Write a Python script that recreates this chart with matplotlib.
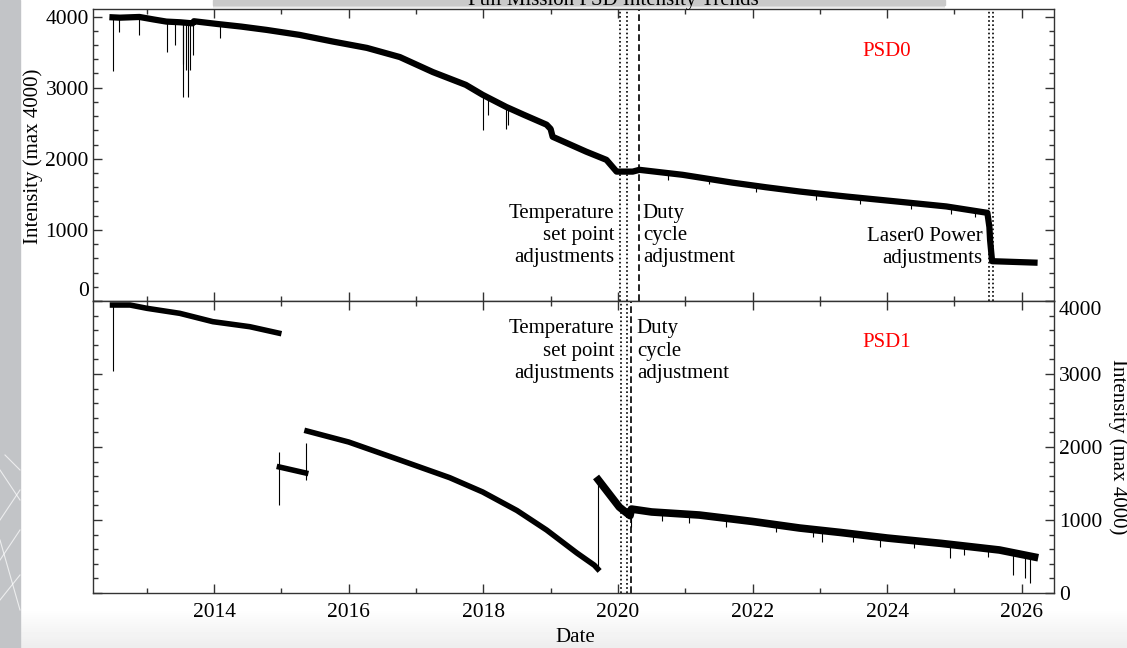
import numpy as np
import matplotlib
matplotlib.use("Agg")
import matplotlib.pyplot as plt
from matplotlib.ticker import MultipleLocator, FormatStrFormatter
from matplotlib.patches import Rectangle

plt.rcParams['font.family'] = ['Liberation Serif', 'DejaVu Serif']

# ---------------- DATA ----------------
# PSD0 : decimal year / intensity
psd0_dates = [2012.49, 2012.60, 2012.89, 2013.10, 2013.29, 2013.50, 2013.68, 2013.70,
              2014.04, 2014.40, 2014.78, 2015.27, 2015.76, 2016.27, 2016.76, 2017.25,
              2017.74, 2017.99, 2018.34, 2018.60, 2018.94, 2019.00, 2019.03, 2019.53,
              2019.83, 2019.98, 2020.22, 2020.32, 2020.96, 2021.70, 2022.20, 2022.70,
              2022.89, 2023.39, 2024.14, 2024.88, 2025.49, 2025.52, 2025.53, 2025.56,
              2026.19]
psd0_vals = [3990, 3985, 3995, 3960, 3930, 3920, 3905, 3935,
             3897, 3860, 3813, 3743, 3650, 3560, 3431, 3220,
             3040, 2900, 2730, 2620, 2480, 2420, 2310, 2100,
             1985, 1820, 1820, 1845, 1775, 1665, 1600, 1540,
             1520, 1470, 1400, 1330, 1240, 1040, 860, 560,
             540]
# PSD0 short drop-outs
psd0_dip_dates = [2012.49, 2012.59, 2012.89, 2013.30, 2013.42, 2013.53, 2013.54, 2013.58,
                  2013.61, 2013.64, 2013.69, 2014.08, 2018.00, 2018.07, 2018.33, 2018.37,
                  2020.75, 2021.35, 2022.05, 2022.95, 2023.60, 2024.35, 2024.95, 2025.30]
psd0_dip_hi = [3990, 3985, 3990, 3930, 3925, 3915, 3915, 3915,
               3910, 3910, 3905, 3890, 2900, 2860, 2730, 2710,
               1800, 1730, 1620, 1510, 1440, 1380, 1320, 1270]
psd0_dip_lo = [3234, 3790, 3740, 3500, 3600, 3340, 2870, 3250,
               2870, 3250, 3460, 3700, 2410, 2620, 2420, 2470,
               1700, 1640, 1530, 1420, 1360, 1290, 1230, 1180]

# PSD1 : four pieces
psd1_a_dates = [2012.49, 2012.75, 2013.00, 2013.49, 2013.98, 2014.53, 2014.96]
psd1_a_vals = [3945, 3945, 3900, 3831, 3717, 3648, 3560]
psd1_b_dates = [2014.97, 2015.36]
psd1_b_vals = [1726, 1644]
psd1_c_dates = [2015.38, 2016.00, 2016.76, 2017.50, 2017.99, 2018.50, 2018.94, 2019.39,
                2019.65, 2019.70]
psd1_c_vals = [2219, 2068, 1822, 1580, 1384, 1130, 863, 548,
               380, 330]
psd1_d_dates = [2019.71, 2020.02, 2020.13, 2020.18, 2020.20, 2020.50, 2021.21, 2022.00,
                2022.70, 2023.30, 2024.00, 2024.80, 2025.67, 2026.19]
psd1_d_vals = [1548, 1178, 1096, 1060, 1150, 1110, 1068, 980,
               890, 830, 753, 680, 589, 493]
psd1_dip_dates = [2012.49, 2014.97, 2015.36, 2019.705, 2020.20, 2023.04, 2023.89, 2024.93,
                  2025.87, 2026.05, 2026.12, 2020.65, 2021.05, 2021.60, 2022.35,
                  2022.90, 2023.50, 2024.40, 2025.15, 2025.50]
psd1_dip_hi = [3945, 1930, 2055, 1548, 1150, 840, 765, 670,
               560, 510, 500, 1090, 1060, 1010, 940,
               870, 810, 720, 640, 610]
psd1_dip_lo = [3040, 1205, 1548, 330, 904, 703, 635, 475,
               247, 201, 141, 990, 960, 900, 830,
               770, 700, 610, 520, 490]

# event markers
temp_top = [2020.025, 2020.13]
duty_top = 2020.31
laser_top = [2025.52, 2025.57]
temp_bot = [2020.04, 2020.13]
duty_bot = 2020.20

W, H = 1127, 648
def fx(px):
    return px / W
def fy(py):
    return 1 - py / H

fig = plt.figure(figsize=(W / 100, H / 100), dpi=100)

# screenshot surroundings
bg = fig.add_axes([0, 0, 1, 1], zorder=-10)
bg.add_patch(Rectangle((0, 0), 20, H, color='#c2c4c7'))
for x0, y0, x1, y1 in [(0, 470, 20, 500), (0, 520, 20, 490), (0, 560, 20, 530),
                       (0, 600, 20, 575), (0, 540, 20, 610), (5, 455, 20, 470)]:
    bg.plot([x0, x1], [y0, y1], color='white', lw=0.8, alpha=0.7)
grad = np.linspace(1.0, 0.93, 40).reshape(-1, 1)
bg.imshow(grad, cmap='gray', vmin=0, vmax=1, extent=[20, W, H, 608], aspect='auto')
bg.add_patch(Rectangle((213, 0), 732, 5, color='#c9c9c9'))
sh = np.linspace(0.79, 1.0, 10).reshape(-1, 1)
bg.imshow(sh, cmap='gray', vmin=0, vmax=1, extent=[213, 945, 9, 5], aspect='auto')
bg.set_xlim(0, W)
bg.set_ylim(H, 0)
bg.axis('off')

ax0 = fig.add_axes([fx(93), fy(301), fx(1054) - fx(93), (301 - 9.5) / H])
ax1 = fig.add_axes([fx(93), fy(593), fx(1054) - fx(93), (593 - 301) / H])

for ax in (ax0, ax1):
    ax.set_xlim(2012.2, 2026.48)
    ax.xaxis.set_major_locator(MultipleLocator(2))
    ax.xaxis.set_minor_locator(MultipleLocator(1))
    ax.yaxis.set_major_locator(MultipleLocator(1000))
    ax.yaxis.set_minor_locator(MultipleLocator(200))
    ax.xaxis.set_major_formatter(FormatStrFormatter('%d'))
    ax.yaxis.set_major_formatter(FormatStrFormatter('%d'))
    ax.tick_params(which='both', direction='in', top=True, right=True,
                   labelsize=15.5, color='#333333', width=1)
    ax.tick_params(which='major', length=6.5)
    ax.tick_params(which='minor', length=3.4)
    for s in ax.spines.values():
        s.set_linewidth(1)
        s.set_color('#333333')

ax0.set_ylim(0, 4100)
ax1.set_ylim(0, 4000)
ax0.tick_params(labelbottom=False, pad=3)
ax1.tick_params(axis='y', labelleft=False, labelright=True, pad=3.5)
ax1.tick_params(axis='x', pad=7)

# PSD0
ax0.plot(psd0_dates, psd0_vals, color='k', lw=4.5, solid_joinstyle='round')
ax0.vlines(psd0_dip_dates, psd0_dip_lo, psd0_dip_hi, color='k', lw=0.8)

# PSD1
for d, v, w in [(psd1_a_dates, psd1_a_vals, 4), (psd1_b_dates, psd1_b_vals, 4),
                (psd1_c_dates, psd1_c_vals, 4), (psd1_d_dates, psd1_d_vals, 5.5)]:
    ax1.plot(d, v, color='k', lw=w, solid_joinstyle='round')
ax1.vlines(psd1_dip_dates, psd1_dip_lo, psd1_dip_hi, color='k', lw=0.8)

# event lines
dot = (0, (1, 1.5))
dash = (0, (4, 2))
for x in temp_top + laser_top:
    ax0.axvline(x, color='k', lw=1.2, ls=dot)
ax0.axvline(duty_top, color='k', lw=1.2, ls=dash)
for x in temp_bot:
    ax1.axvline(x, color='k', lw=1.2, ls=dot)
ax1.axvline(duty_bot, color='k', lw=1.2, ls=dash)

# annotations
ls_txt = 1.22
ax0.text(2019.95, 920, 'Temperature\nset point\nadjustments', ha='right', va='center',
         multialignment='right', fontsize=15, linespacing=ls_txt)
ax0.text(2020.37, 920, 'Duty\ncycle\nadjustment', ha='left', va='center',
         multialignment='left', fontsize=15, linespacing=ls_txt)
ax0.text(2025.415, 758, 'Laser0 Power\nadjustments', ha='right', va='center',
         multialignment='right', fontsize=15, linespacing=ls_txt)
ax0.text(2024.0, 3504, 'PSD0', color='red', ha='center', va='center', fontsize=15)

ax1.text(2019.95, 3315, 'Temperature\nset point\nadjustments', ha='right', va='center',
         multialignment='right', fontsize=15, linespacing=ls_txt)
ax1.text(2020.28, 3315, 'Duty\ncycle\nadjustment', ha='left', va='center',
         multialignment='left', fontsize=15, linespacing=ls_txt)
ax1.text(2024.0, 3425, 'PSD1', color='red', ha='center', va='center', fontsize=15)

# nudge the end labels inside the panels
fig.canvas.draw()
for t in ax0.yaxis.get_major_ticks():
    if abs(t.get_loc()) < 1e-6:
        t.label1.set_va('bottom')
for t in ax1.yaxis.get_major_ticks():
    if abs(t.get_loc() - 4000) < 1e-6:
        t.label2.set_va('top')

fig.text(fx(33), fy(156), 'Intensity (max 4000)', rotation=90, ha='center', va='center', fontsize=15)
fig.text(fx(1118), fy(447), 'Intensity (max 4000)', rotation=-90, ha='center', va='center', fontsize=15)
fig.text(fx(575), fy(638), 'Date', ha='center', va='center', fontsize=15)
fig.text(fx(613), fy(4.5), 'Full Mission PSD Intensity Trends', ha='center', va='baseline', fontsize=15)

fig.savefig('out.png', dpi=100)
